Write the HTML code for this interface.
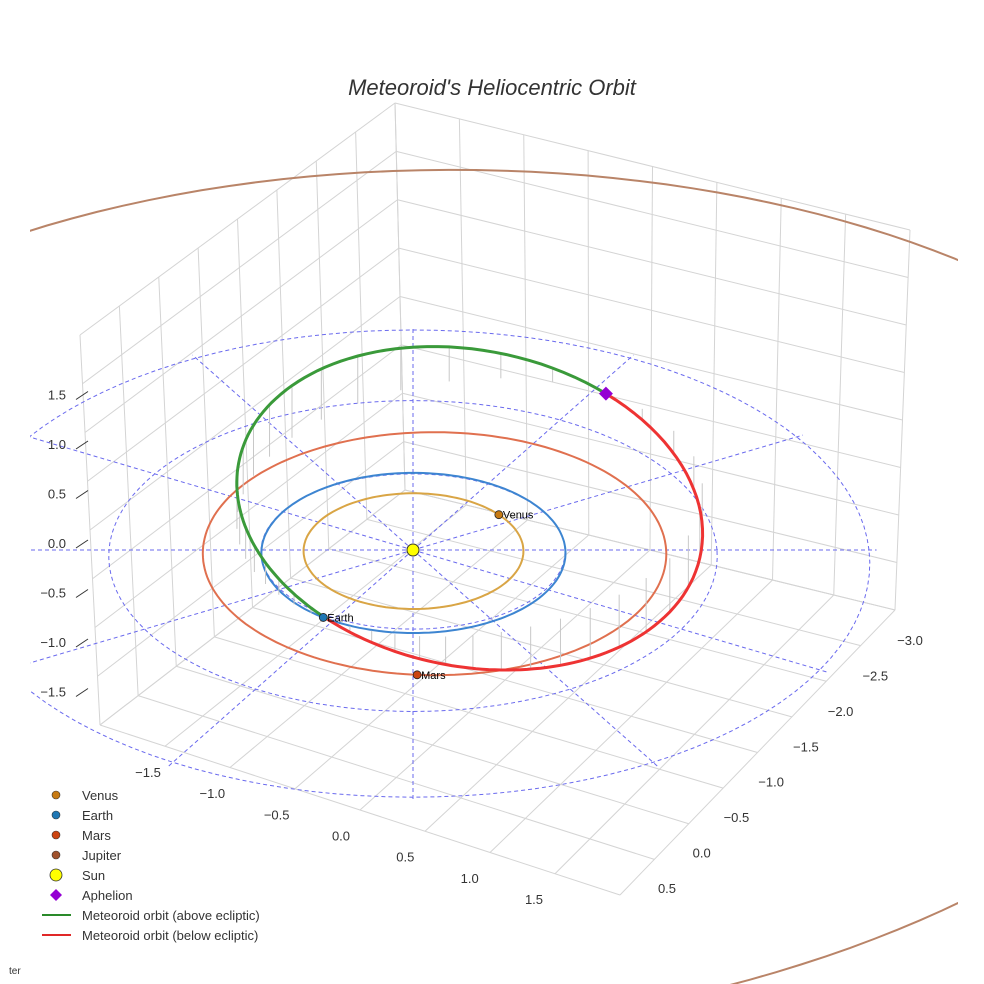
<!DOCTYPE html>
<html><head><meta charset="utf-8"><style>
body{margin:0;background:#fff;}
svg{display:block;font-family:"Liberation Sans",sans-serif;}
</style></head><body>
<svg id="c" width="984" height="984" viewBox="0 0 984 984">
<defs><clipPath id="scene"><rect x="30" y="0" width="928" height="984"/></clipPath></defs>
<rect width="984" height="984" fill="#fff"/>
<g id="grid"></g>
<g id="eclip" clip-path="url(#scene)"></g>
<g id="orbits" clip-path="url(#scene)"></g>
<g id="marks"></g>
<g id="ticks"></g>
<text x="492" y="95" text-anchor="middle" font-size="22" font-style="italic" fill="#333">Meteoroid's Heliocentric Orbit</text>
<g id="legend" font-size="13" fill="#333"></g>
<text x="9" y="974" font-size="10" fill="#333">ter</text>
</svg>
<script>
// ---- data ----
const planetNames = ["Venus","Earth","Mars","Jupiter"];
const planetA = [0.723, 1.0, 1.524, 5.2];
const planetE = [0.007, 0.017, 0.093, 0.048];
const planetPeriDeg = [130, 100, 180, 15];
const planetPosDeg = [38, 235, 271, null];
const planetOrbitColors = ["#d9a545","#3d85d1","#e0704f","#b98468"];
const planetMarkerColors = ["#c77a12","#1f77b4","#cc4411","#a0522d"];
const meteorA = 1.72, meteorE = 0.41, meteorIncDeg = 20, meteorPeriDeg = 237;
const ringRadii = [1, 2, 3];
const spokeDeg = [0,30,60,90,120,150,180,210,240,270,300,330];
const zTicks = [-1.5,-1.0,-0.5,0.0,0.5,1.0,1.5];
const xTicks = [-1.5,-1.0,-0.5,0.0,0.5,1.0,1.5];
const yTicks = [-3.0,-2.5,-2.0,-1.5,-1.0,-0.5,0.0,0.5];

const NS="http://www.w3.org/2000/svg";
function el(tag,attrs,parent){const e=document.createElementNS(NS,tag);for(const k in attrs)e.setAttribute(k,attrs[k]);parent.appendChild(e);return e;}
function P(x,y,z){const f=1/(1+0.02*y);return [413+152*x*f, 550-(80*y+100*z)*f];}
function PF(x,y){return [490+156*x, 570-(y>0?78:87)*y + (y<0? -10*x*(-y/5.2):0)];}
const rad=d=>d*Math.PI/180;
function pathFrom(pts){return pts.map((p,i)=>(i?"L":"M")+p[0].toFixed(1)+" "+p[1].toFixed(1)).join(" ");}
function orbitPt(a,e,peri,nuDeg){const nu=rad(nuDeg);const r=a*(1-e*e)/(1+e*Math.cos(nu));const t=rad(peri)+nu;return [r*Math.cos(t),r*Math.sin(t),0];}

// ---- box grid ----
const G=document.getElementById("grid");
const Bt=[395,103],Bb=[405,490],Lt=[80,335],Lb=[100,725],Rt=[910,230],Rb=[895,610],Fb=[620,895];
function lerp(a,b,t){return [a[0]+(b[0]-a[0])*t,a[1]+(b[1]-a[1])*t];}
function gl(a,b,name){const l=el("line",{x1:a[0],y1:a[1],x2:b[0],y2:b[1],stroke:"#d4d4d4","stroke-width":1},G);}
for(let i=0;i<=8;i++){const t=i/8;
 gl(lerp(Bt,Lt,t),lerp(Bb,Lb,t),"left-wall-vline");
 gl(lerp(Bt,Rt,t),lerp(Bb,Rb,t),"right-wall-vline");
 gl(lerp(Bt,Bb,t),lerp(Lt,Lb,t),"left-wall-hline");
 gl(lerp(Bt,Bb,t),lerp(Rt,Rb,t),"right-wall-hline");
 gl(lerp(Bb,Lb,t),lerp(Rb,Fb,t),"floor-line-a");
 gl(lerp(Bb,Rb,t),lerp(Lb,Fb,t),"floor-line-b");
}

// ---- ecliptic dashed grid ----
const E=document.getElementById("eclip");
ringRadii.forEach(r=>{const pts=[];for(let d=0;d<=360;d+=3)pts.push(P(r*Math.cos(rad(d)),r*Math.sin(rad(d))*0.97,0));
 const p=el("path",{d:pathFrom(pts),fill:"none",stroke:"#6a6aee","stroke-width":1,"stroke-dasharray":"4 3"},E);
 });
spokeDeg.forEach(d=>{const a=P(0,0,0),b=P(3.05*Math.cos(rad(d)),3.05*Math.sin(rad(d))*0.97,0);
 const l=el("line",{x1:a[0],y1:a[1],x2:b[0],y2:b[1],stroke:"#6a6aee","stroke-width":1,"stroke-dasharray":"4 3"},E);
 });

// ---- orbits ----
const O=document.getElementById("orbits");
planetA.forEach((a,i)=>{const pts=[];for(let d=0;d<=360;d+=2){const q=orbitPt(a,planetE[i],planetPeriDeg[i],d);pts.push(a>3?PF(q[0]*0.99,q[1]):P(...q));}
 const p=el("path",{d:pathFrom(pts),fill:"none",stroke:planetOrbitColors[i],"stroke-width":2},O);
 });
function meteor(nuDeg){const nu=rad(nuDeg),e=meteorE,a=meteorA,inc=rad(meteorIncDeg);
 const r=a*(1-e*e)/(1+e*Math.cos(nu));const u=r*Math.cos(nu),w=-r*Math.sin(nu);
 const n=rad(meteorPeriDeg),pp=n+Math.PI/2;
 return [u*Math.cos(n)+w*Math.cos(inc)*Math.cos(pp),u*Math.sin(n)+w*Math.cos(inc)*Math.sin(pp),-w*Math.sin(inc)];}
for(let d=8;d<360;d+=9){if(Math.abs(d-180)<5)continue;const q=meteor(d);const a=P(q[0],q[1],q[2]),b=P(q[0],q[1],0);
 const l=el("line",{x1:a[0],y1:a[1],x2:b[0],y2:b[1],stroke:"#c8c8c8","stroke-width":1},O);
 }
const gp=[],rp=[];for(let d=0;d<=180;d+=2)gp.push(P(...meteor(d)));for(let d=180;d<=360;d+=2)rp.push(P(...meteor(d)));
let m=el("path",{d:pathFrom(gp),fill:"none",stroke:"#3a9a3a","stroke-width":3},O);

m=el("path",{d:pathFrom(rp),fill:"none",stroke:"#ee3333","stroke-width":3},O);


// ---- markers ----
const M=document.getElementById("marks");
planetPosDeg.forEach((d,i)=>{if(d===null)return;const q=P(...orbitPt(planetA[i],planetE[i],planetPeriDeg[i],d-planetPeriDeg[i]));
 const c=el("circle",{cx:q[0],cy:q[1],r:4,fill:planetMarkerColors[i],stroke:"#222","stroke-width":0.8},M);
 
 const t=el("text",{x:q[0]+4,y:q[1]+4,"font-size":11,fill:"#000"},M);t.textContent=planetNames[i];
 });
const s0=P(0,0,0);
let s=el("circle",{cx:s0[0],cy:s0[1],r:6,fill:"#ffff00",stroke:"#333","stroke-width":1},M);

const ap=P(...meteor(180));
s=el("path",{d:`M${ap[0]} ${ap[1]-7}L${ap[0]+7} ${ap[1]}L${ap[0]} ${ap[1]+7}L${ap[0]-7} ${ap[1]}Z`,fill:"#9400d3"},M);


// ---- ticks ----
const T=document.getElementById("ticks");
function tk(x,y,txt,anchor,name){const t=el("text",{x:x,y:y,"font-size":13,fill:"#333","text-anchor":anchor},T);t.textContent=txt.replace("-","\u2212");}
zTicks.forEach(v=>{const y=543-v*99;tk(66,y+5,v.toFixed(1),"end","z-tick-label");
 const l=el("line",{x1:76,y1:y+5,x2:88,y2:y-3,stroke:"#333","stroke-width":1},T);});
xTicks.forEach(v=>{const t=(v+1.5)/3;tk(148+t*386,777+t*127,v.toFixed(1),"middle","x-tick-label");});
yTicks.forEach(v=>{const t=(v+3)/3.5;tk(910-t*243,645+t*248,v.toFixed(1),"middle","y-tick-label");});

// ---- legend ----
const L=document.getElementById("legend");
const legItems=[["Venus","dot","#c77a12"],["Earth","dot","#1f77b4"],["Mars","dot","#cc4411"],["Jupiter","dot","#a0522d"],["Sun","sun","#ffff00"],["Aphelion","dia","#9400d3"],["Meteoroid orbit (above ecliptic)","line","#2a8a2a"],["Meteoroid orbit (below ecliptic)","line","#e02828"]];
legItems.forEach((it,i)=>{const y=795+i*20;let g=el("g",{},L);
 if(it[1]==="dot")el("circle",{cx:56,cy:y,r:4,fill:it[2],stroke:"#333","stroke-width":0.6},g);
 else if(it[1]==="sun")el("circle",{cx:56,cy:y,r:6,fill:it[2],stroke:"#333","stroke-width":0.8},g);
 else if(it[1]==="dia")el("path",{d:`M56 ${y-6}L62 ${y}L56 ${y+6}L50 ${y}Z`,fill:it[2]},g);
 else el("line",{x1:42,y1:y,x2:71,y2:y,stroke:it[2],"stroke-width":2},g);
 const t=el("text",{x:82,y:y+5,fill:"#333","font-size":13},g);t.textContent=it[0];});
</script>
</body></html>
